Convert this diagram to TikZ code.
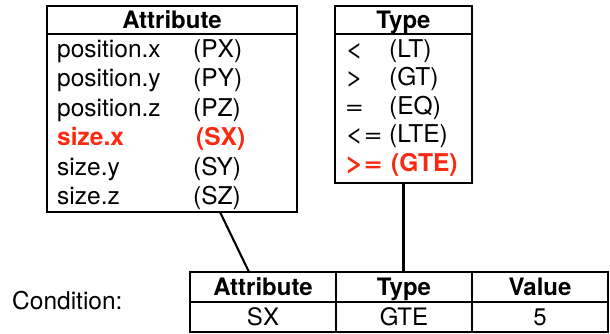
\documentclass[tikz,border=0pt]{standalone}
\usepackage{fontspec}
\usepackage{graphicx}
\setmainfont{TeX Gyre Heros}
\usetikzlibrary{calc}
\definecolor{hl}{RGB}{250,42,16}
% relational operators are set a little wider than the text font gives them
\newcommand\opsym[1]{\scalebox{1.3}[1]{#1}}
\begin{document}
\begin{tikzpicture}[x=1pt,y=-1pt,
  cell/.style={draw, line width=2.1pt, inner sep=0pt, outer sep=0pt},
  head/.style={font=\fontsize{24}{28}\selectfont\bfseries, text height=17pt, text depth=0pt},
  val/.style={font=\fontsize{24}{28}\selectfont, text height=17pt, text depth=0pt},
  entry/.style={font=\fontsize{24.5}{29}\selectfont, anchor=base west, inner sep=0pt},
  hot/.style={entry, text=hl, font=\fontsize{24.5}{29}\selectfont\bfseries},
  link/.style={line width=2.1pt}]
\useasboundingbox (0,0) rectangle (610,333);

% attribute list
\node[cell, head, minimum width=250pt, minimum height=28pt] (attrhead) at (172,20) {Attribute};
\node[cell, minimum width=250pt, minimum height=178pt] (attrbody) at (172,123) {};
\node[entry] (a1) at (57,57)    {position.x};  \node[entry] (a1c) at (193,57)    {(PX)};
\node[entry] (a2) at (57,86.5)  {position.y};  \node[entry] (a2c) at (193,86.5)  {(PY)};
\node[entry] (a3) at (57,116)   {position.z};  \node[entry] (a3c) at (193,116)   {(PZ)};
\node[hot]   (a4) at (57,145.5) {size.x};      \node[hot]   (a4c) at (196,145.5) {(SX)};
\node[entry] (a5) at (57,175)   {size.y};      \node[entry] (a5c) at (193,175)   {(SY)};
\node[entry] (a6) at (57,204.5) {size.z};      \node[entry] (a6c) at (193,204.5) {(SZ)};

% type list
\node[cell, head, minimum width=137pt, minimum height=28pt] (typehead) at (403.5,20) {Type};
\node[cell, minimum width=137pt, minimum height=149pt] (typebody) at (403.5,108.5) {};
\node[entry] (t1) at (345,57)    {\opsym{<}};  \node[entry] (t1c) at (389,57)    {(LT)};
\node[entry] (t2) at (345,85.5)  {\opsym{>}};  \node[entry] (t2c) at (389,85.5)  {(GT)};
\node[entry] (t3) at (345,114)   {\opsym{=}};  \node[entry] (t3c) at (389,114)   {(EQ)};
\node[entry] (t4) at (345,142.5) {\opsym{<=}}; \node[entry] (t4c) at (389,142.5) {(LTE)};
\node[hot]   (t5) at (345,171)   {\opsym{>=}}; \node[hot]   (t5c) at (391,171)   {(GTE)};

% condition record
\node[font=\fontsize{24.5}{29}\selectfont, anchor=west, inner sep=0pt] (cond) at (12,301) {Condition:};
\node[cell, head, minimum width=146pt, minimum height=30pt] (cattrh) at (263,287) {Attribute};
\node[cell, head, minimum width=136pt, minimum height=30pt] (ctypeh) at (404,287) {Type};
\node[cell, head, minimum width=136pt, minimum height=30pt] (cvalh)  at (540,287) {Value};
\node[cell, val, minimum width=146pt, minimum height=30pt] (cattr) at (263,317) {SX};
\node[cell, val, minimum width=136pt, minimum height=30pt] (ctype) at (404,317) {GTE};
\node[cell, val, minimum width=136pt, minimum height=30pt] (cval)  at (540,317) {5};

% links from the lists to the record fields
\draw[link] ($(attrbody.south west)+(173,0)$) -- ($(cattrh.north)+(-14,0)$);
\draw[link] (typebody.south) -- (typebody.south |- ctypeh.north);
\end{tikzpicture}
\end{document}
